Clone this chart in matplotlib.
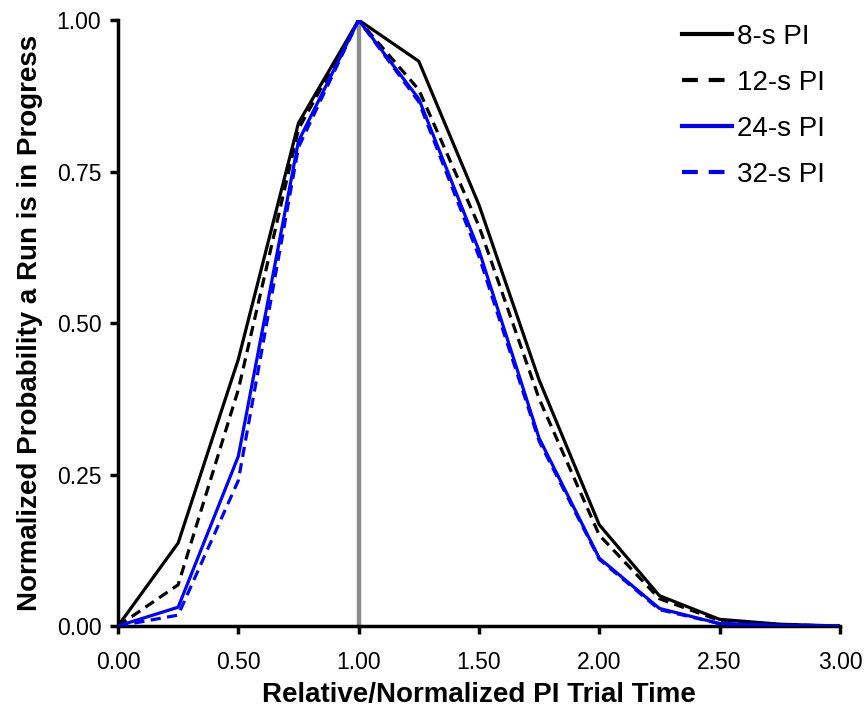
import matplotlib
matplotlib.use("Agg")
import matplotlib.pyplot as plt

plt.rcParams['font.family'] = ['Liberation Sans', 'DejaVu Sans']

x = [0.0, 0.25, 0.5, 0.75, 1.0, 1.25, 1.5, 1.75, 2.0, 2.25, 2.5, 2.75, 3.0]
pi8 = [0.0, 0.137, 0.44, 0.83, 1.0, 0.932, 0.695, 0.406, 0.167, 0.050, 0.011, 0.003, 0.0]
pi12 = [0.0, 0.068, 0.39, 0.82, 1.0, 0.885, 0.660, 0.375, 0.150, 0.045, 0.009, 0.002, 0.0]
pi24 = [0.0, 0.031, 0.28, 0.80, 1.0, 0.870, 0.620, 0.310, 0.112, 0.029, 0.004, 0.001, 0.0]
pi32 = [0.0, 0.018, 0.24, 0.79, 1.0, 0.865, 0.610, 0.305, 0.110, 0.027, 0.004, 0.001, 0.0]

labels = ['8-s PI', '12-s PI', '24-s PI', '32-s PI']
xticks = [0.0, 0.5, 1.0, 1.5, 2.0, 2.5, 3.0]
yticks = [0.0, 0.25, 0.5, 0.75, 1.0]

fig = plt.figure(figsize=(8.65, 7.1), dpi=100)
ax = fig.add_axes([0.1364, 0.1183, 0.8346, 0.8535])

ax.plot([1.0, 1.0], [0.0, 1.0], color='#8c8c8c', lw=3.2, zorder=1)

dash = (0, (3.2, 2.0))
ax.plot(x, pi8, color='black', lw=2.3, label=labels[0], zorder=3)
ax.plot(x, pi12, color='black', lw=2.3, ls=dash, label=labels[1], zorder=3)
ax.plot(x, pi24, color='#0000ff', lw=2.3, label=labels[2], zorder=3)
ax.plot(x, pi32, color='#0000ff', lw=2.3, ls=dash, label=labels[3], zorder=3)

ax.set_xlim(0, 3)
ax.set_ylim(0, 1)
ax.set_xticks(xticks)
ax.set_xticklabels([f"{v:.2f}" for v in xticks])
ax.set_yticks(yticks)
ax.set_yticklabels([f"{v:.2f}" for v in yticks])

for s in ['top', 'right']:
    ax.spines[s].set_visible(False)
for s in ['left', 'bottom']:
    ax.spines[s].set_linewidth(2.5)
    ax.spines[s].set_color('black')

ax.tick_params(axis='both', direction='out', length=6, width=2.5, labelsize=16.5)
ax.tick_params(axis='x', pad=12)
ax.tick_params(axis='y', pad=6)

ax.set_xlabel('Relative/Normalized PI Trial Time', fontsize=20, fontweight='bold', labelpad=6)
ax.set_ylabel('Normalized Probability a Run is in Progress', fontsize=20, fontweight='bold', labelpad=10)

leg = ax.legend(loc='upper right', frameon=False, fontsize=20, handlelength=1.8,
                handletextpad=0.2, labelspacing=0.72, borderaxespad=0,
                bbox_to_anchor=(0.995, 1.012))
for i, h in enumerate(leg.get_lines()):
    h.set_linewidth(3.0)
    if i in (1, 3):
        h.set_dashes((3.8, 2.6))

fig.savefig('out.png', dpi=100)
